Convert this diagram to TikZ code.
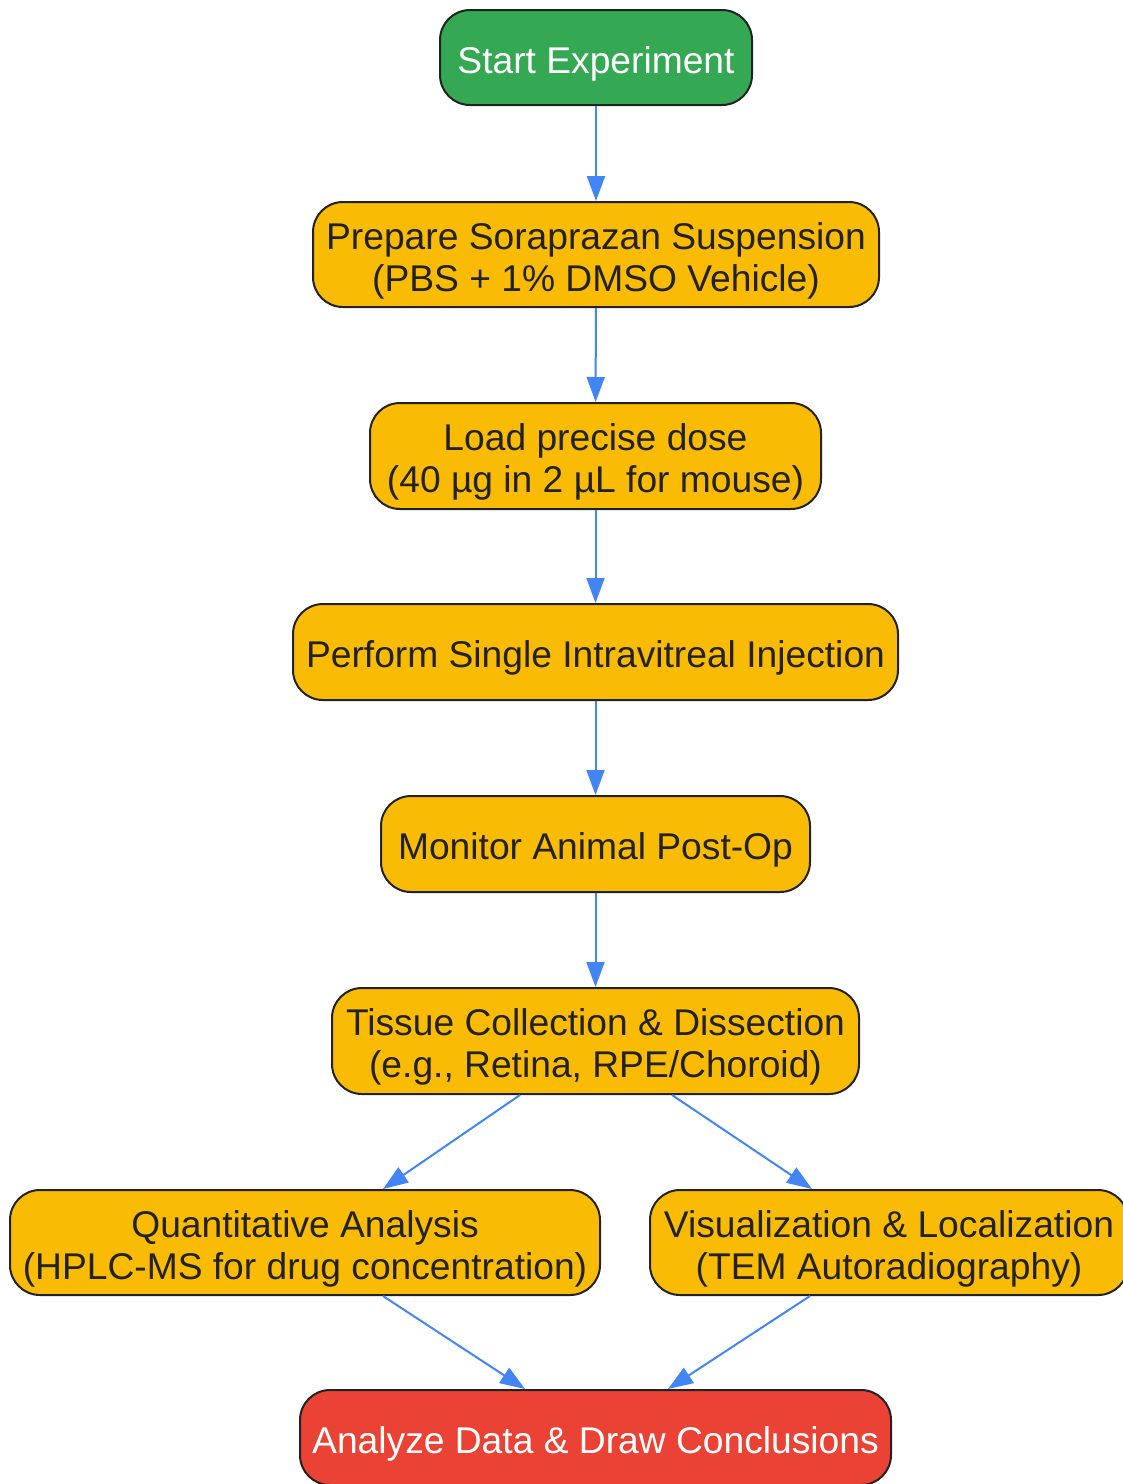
\documentclass[tikz,border=0pt]{standalone}
\usepackage{fontspec}
\setmainfont{Liberation Sans}
\usetikzlibrary{arrows.meta,calc}
\definecolor{gstart}{HTML}{34A853}
\definecolor{gstep}{HTML}{FABB05}
\definecolor{gend}{HTML}{EA4335}
\definecolor{gedge}{HTML}{4285F4}
\definecolor{gline}{HTML}{222222}
\tikzset{
  box/.style={draw=gline, line width=2pt, rounded corners=30pt, inner sep=0pt},
  stepbox/.style={box, fill=gstep},
  startbox/.style={box, fill=gstart},
  endbox/.style={box, fill=gend},
  txt/.style={align=center, inner sep=0pt, font=\fontsize{37.2}{42}\selectfont},
  darktxt/.style={txt, text=gline},
  lighttxt/.style={txt, text=white},
  flow/.style={draw=gedge, line width=2pt, -{Triangle[length=25pt,width=18pt]}}
}
\begin{document}
\begin{tikzpicture}[x=1pt,y=-1pt]
\useasboundingbox (0,0) rectangle (1123,1484);
\node[startbox, minimum width=312pt, minimum height=95pt] (start) at (596,57.5) {};
\node[stepbox, minimum width=566pt, minimum height=105pt] (prep) at (596,254.5) {};
\node[stepbox, minimum width=451pt, minimum height=106pt] (load) at (595.5,456) {};
\node[stepbox, minimum width=605pt, minimum height=96pt] (inj) at (595.5,652) {};
\node[stepbox, minimum width=429pt, minimum height=96pt] (mon) at (595.5,844) {};
\node[stepbox, minimum width=527pt, minimum height=106pt] (tis) at (595.5,1041) {};
\node[stepbox, minimum width=590pt, minimum height=105pt] (quant) at (305,1242.5) {};
\node[stepbox, minimum width=478pt, minimum height=105pt] (vis) at (889,1242.5) {};
\node[endbox, minimum width=591pt, minimum height=95pt] (ana) at (595.5,1437.5) {};
\node[lighttxt] (startT) at ($(start)+(0,6)$) {Start Experiment};
\node[darktxt] (prepT) at ($(prep)+(0,6)$) {Prepare Soraprazan Suspension\\(PBS + 1\% DMSO Vehicle)};
\node[darktxt] (loadT) at ($(load)+(0,6)$) {Load precise dose\\(40 µg in 2 µL for mouse)};
\node[darktxt] (injT) at ($(inj)+(0,6)$) {Perform Single Intravitreal Injection};
\node[darktxt] (monT) at ($(mon)+(0,6)$) {Monitor Animal Post-Op};
\node[darktxt] (tisT) at ($(tis)+(0,6)$) {Tissue Collection \& Dissection\\(e.g., Retina, RPE/Choroid)};
\node[darktxt] (quantT) at ($(quant)+(0,6)$) {Quantitative Analysis\\(HPLC-MS for drug concentration)};
\node[darktxt] (visT) at ($(vis)+(0,6)$) {Visualization \& Localization\\(TEM Autoradiography)};
\node[lighttxt] (anaT) at ($(ana)+(0,6)$) {Analyze Data \& Draw Conclusions};
\draw[flow] (start) -- (prep);
\draw[flow] (prep) -- (load);
\draw[flow] (load) -- (inj);
\draw[flow] (inj) -- (mon);
\draw[flow] (mon) -- (tis);
\draw[flow] ($(tis.south)+(-75.5,0)$) -- ($(quant.north)+(78,0)$);
\draw[flow] ($(tis.south)+(76.5,0)$) -- ($(vis.north)+(-77,0)$);
\draw[flow] ($(quant.south)+(78,0)$) -- ($(ana.north)+(-70.5,0)$);
\draw[flow] ($(vis.south)+(-79,0)$) -- ($(ana.north)+(72.5,0)$);
\end{tikzpicture}
\end{document}
